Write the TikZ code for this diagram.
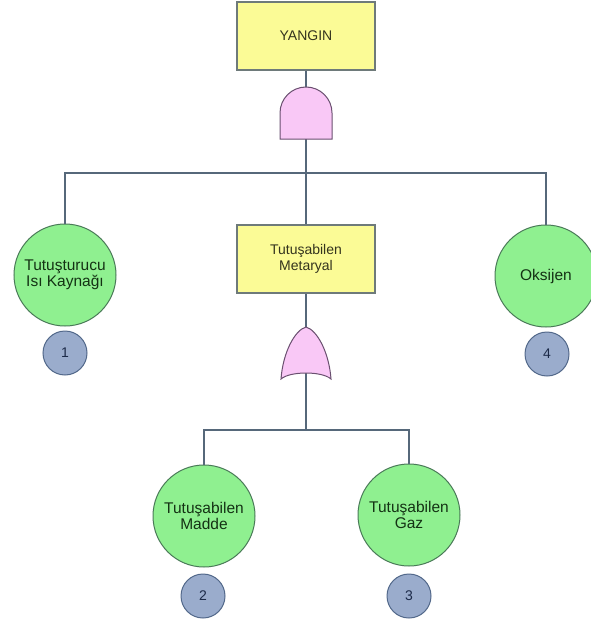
\documentclass[tikz,border=0pt]{standalone}
\usepackage{fontspec}
\setmainfont{Liberation Sans}
\definecolor{boxfill}{HTML}{FBFB96}
\definecolor{boxline}{HTML}{6E7A7A}
\definecolor{boxtext}{HTML}{34341E}
\definecolor{evfill}{HTML}{8FF090}
\definecolor{evline}{HTML}{4A7A58}
\definecolor{evtext}{HTML}{143214}
\definecolor{numfill}{HTML}{9AACCC}
\definecolor{numline}{HTML}{52688A}
\definecolor{numtext}{HTML}{1C2A48}
\definecolor{gatefill}{HTML}{F9C8F6}
\definecolor{gateline}{HTML}{6A5070}
\definecolor{wire}{HTML}{56687A}
\tikzset{
  eventbox/.style={draw=boxline, line width=1.3pt, fill=boxfill, text=boxtext,
    minimum width=138pt, minimum height=68pt, inner sep=0pt, align=center,
    font=\fontsize{14}{16}\selectfont},
  basic/.style={circle, draw=evline, line width=1pt, fill=evfill, text=evtext,
    minimum size=102pt, inner sep=0pt, align=center,
    font=\fontsize{15.5}{16}\selectfont},
  numtag/.style={circle, draw=numline, line width=1pt, fill=numfill, text=numtext,
    minimum size=44pt, inner sep=0pt, font=\fontsize{14}{16}\selectfont},
  gate/.style={draw=gateline, line width=1pt, fill=gatefill},
  wireline/.style={draw=wire, line width=1.4pt}
}
\begin{document}
\begin{tikzpicture}[x=1pt,y=-1pt]
\useasboundingbox (0,0) rectangle (590,623);

% events
\node[eventbox] (top) at (306,36) {YANGIN};
\node[eventbox] (mid) at (306,259) {Tutuşabilen\\Metaryal};
\node[basic] (c1) at (65,275) {Tutuşturucu\\Isı Kaynağı};
\node[basic] (c4) at (546,276) {Oksijen};
\node[basic] (c2) at (204,516) {Tutuşabilen\\Madde};
\node[basic] (c3) at (409,515) {Tutuşabilen\\Gaz};

% event numbers
\node[numtag] (n1) at (65,353) {1};
\node[numtag] (n4) at (547,354) {4};
\node[numtag] (n2) at (203,596) {2};
\node[numtag] (n3) at (409,596) {3};

% gate terminals and bus points
\coordinate (andin) at (306,87);
\coordinate (andout) at (306,139);
\coordinate (orin) at (306,327);
\coordinate (orout) at (306,373);
\coordinate (busA) at (306,173);
\coordinate (busB) at (306,430);

% connectors
\draw[wireline] (top.south) -- (andin);
\draw[wireline] (andout) -- (busA);
\draw[wireline] (busA) -| (c1.north);
\draw[wireline] (busA) -| (c4.north);
\draw[wireline] (busA) -- (mid.north);
\draw[wireline] (mid.south) -- (orin);
\draw[wireline] (orout) -- (busB);
\draw[wireline] (busB) -| (c2.north);
\draw[wireline] (busB) -| (c3.north);

% AND gate
\draw[gate] (280,139) -- (280,113) arc[start angle=180, end angle=0, radius=26pt]
  -- (332,139) -- cycle;

% OR gate
\draw[gate] (281,379) .. controls (283,352) and (295,330) .. (orin)
  .. controls (317,330) and (329,352) .. (331,379)
  .. controls (322,371) and (290,371) .. cycle;
\end{tikzpicture}
\end{document}
